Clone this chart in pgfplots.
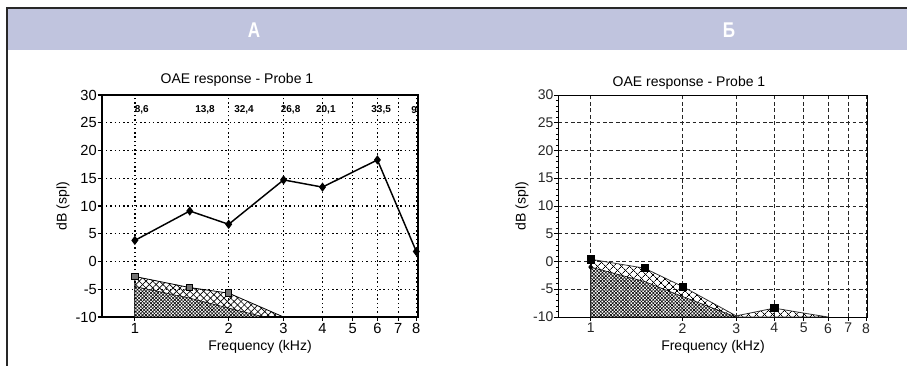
\documentclass[border=0pt]{standalone}
\usepackage{pgfplots}
\pgfplotsset{compat=1.18}
\usepackage{fontspec}
\setmainfont{Liberation Sans}
\usetikzlibrary{patterns.meta}
\definecolor{hdr}{RGB}{192,196,222}
\definecolor{frame}{RGB}{40,40,40}

\begin{document}
\begin{tikzpicture}[x=0.75pt,y=0.75pt]
\path[use as bounding box] (0,0) rectangle (907,366);
\fill[hdr] (7,316) rectangle (907,357.5);
\draw[line width=1.1pt, frame] (6,358) -- (907,358);
\draw[line width=1.1pt, frame] (7,358) -- (7,0);
\node[text=white, font=\bfseries\fontsize{16}{18}\selectfont] at (254,336) {\scalebox{0.8}[1]{А}};
\node[text=white, font=\bfseries\fontsize{16}{18}\selectfont] at (729,336) {\scalebox{0.8}[1]{Б}};

% ---------------- Panel A ----------------
\node[font=\fontsize{10.5}{12}\selectfont] at (237,286) {OAE response - Probe 1};
\node[font=\fontsize{10.5}{12}\selectfont, rotate=90] at (63,160) {dB (spl)};
\node[font=\fontsize{10.5}{12}\selectfont] at (260,19.5) {Frequency (kHz)};

\begin{axis}[
  at={(76.3pt,36.75pt)}, anchor=south west,
  scale only axis, width=237.2pt, height=166.5pt,
  xmode=log, xmin=0.783, xmax=8.1, ymin=-10, ymax=30,
  xtick={1,2,3,4,5,6,7,8}, xticklabels={1,2,3,4,5,6,7,8},
  xminorticks=false,
  ytick={-10,-5,0,5,10,15,20,25,30},
  yticklabels={-10,-5,0,5,10,15,20,25,30},
  grid=major,
  major grid style={black, line width=1.1pt, dash pattern=on 1.1pt off 2.1pt},
  axis line style={black, line width=1.2pt},
  tick align=outside, tick pos=left,
  major tick length=3pt,
  tick style={black, line width=0.9pt},
  ticklabel style={font=\fontsize{11}{12}\selectfont},
  yticklabel style={inner xsep=0.5pt},
  xticklabel style={inner ysep=1.5pt},
  clip=false,
]
% noise floor, upper hatched region
\addplot[draw=black, line width=0.6pt, pattern={Lines[angle=45,distance=3.6pt,line width=0.5pt]}, pattern color=black]
  coordinates {(1,-2.7) (1.5,-4.7) (2,-5.7) (3,-10) (1,-10)} -- cycle;
\addplot[draw=none, pattern={Lines[angle=-45,distance=3.6pt,line width=0.5pt]}, pattern color=black]
  coordinates {(1,-2.7) (1.5,-4.7) (2,-5.7) (3,-10) (1,-10)} -- cycle;
% dense region
\addplot[draw=none, fill=white]
  coordinates {(1,-4.5) (1.5,-6.6) (2,-8.4) (2.6,-10) (1,-10)} -- cycle;
\addplot[draw=black, line width=0.4pt, pattern={Lines[angle=45,distance=1.8pt,line width=0.45pt]}, pattern color=black]
  coordinates {(1,-4.5) (1.5,-6.6) (2,-8.4) (2.6,-10) (1,-10)} -- cycle;
\addplot[draw=none, pattern={Lines[angle=-45,distance=1.8pt,line width=0.45pt]}, pattern color=black]
  coordinates {(1,-4.5) (1.5,-6.6) (2,-8.4) (2.6,-10) (1,-10)} -- cycle;
\addplot[only marks, mark=square*, mark size=2.4pt, mark options={fill=black!55, draw=black, line width=0.7pt}]
  coordinates {(1,-2.7) (1.5,-4.7) (2,-5.7)};
% DPOAE response
\addplot[black, line width=1.1pt, mark=diamond*, mark size=2.6pt, mark options={fill=black}]
  coordinates {(1,3.8) (1.5,9.1) (2,6.7) (3,14.7) (4,13.4) (6,18.3) (8,1.8)};
% SNR labels
\begin{scope}[every node/.style={font=\bfseries\fontsize{7.5}{8}\selectfont}]
\node at (axis cs:1.053,27.3) {8,6};
\node at (axis cs:1.68,27.3) {13,8};
\node at (axis cs:2.24,27.3) {32,4};
\node at (axis cs:3.16,27.3) {26,8};
\node at (axis cs:4.1,27.3) {20,1};
\node at (axis cs:6.17,27.3) {33,5};
\node at (axis cs:7.87,27.3) {9};
\end{scope}
\end{axis}

% ---------------- Panel B ----------------
\node[font=\fontsize{10.5}{12}\selectfont] at (689,283) {OAE response - Probe 1};
\node[font=\fontsize{10.5}{12}\selectfont, rotate=90] at (522,160) {dB (spl)};
\node[font=\fontsize{10.5}{12}\selectfont] at (713,19.5) {Frequency (kHz)};

\begin{axis}[
  at={(418.7pt,36.75pt)}, anchor=south west,
  scale only axis, width=232.05pt, height=166.5pt,
  xmode=log, xmin=0.783, xmax=8.1, ymin=-10, ymax=30,
  xtick={1,2,3,4,5,6,7,8}, xticklabels={1,2,3,4,5,6,7,8},
  xminorticks=false,
  ytick={-10,-5,0,5,10,15,20,25,30},
  yticklabels={-10,-5,0,5,10,15,20,25,30},
  minor y tick num=4,
  grid=major,
  major grid style={black!85, line width=0.6pt, dash pattern=on 2.8pt off 2pt},
  axis line style={black, line width=0.7pt},
  tick align=outside, tick pos=left,
  major tick length=3pt, minor tick length=1.8pt,
  tick style={black, line width=0.5pt},
  ticklabel style={font=\fontsize{10.5}{12}\selectfont, text=black!85},
  yticklabel style={inner xsep=0.5pt},
  xticklabel style={inner ysep=1.5pt},
  clip=false,
]
\addplot[draw=black!80, line width=0.6pt, pattern={Lines[angle=45,distance=4pt,line width=0.5pt]}, pattern color=black]
  coordinates {(1,0.4) (1.5,-1.2) (2,-4.5) (3,-9.8) (4,-8.4) (5,-9.3) (6,-10) (1,-10)} -- cycle;
\addplot[draw=none, pattern={Lines[angle=-45,distance=4pt,line width=0.5pt]}, pattern color=black]
  coordinates {(1,0.4) (1.5,-1.2) (2,-4.5) (3,-9.8) (4,-8.4) (5,-9.3) (6,-10) (1,-10)} -- cycle;
\addplot[draw=none, fill=white]
  coordinates {(1,-1.0) (1.5,-3.6) (2,-6.3) (3,-10) (1,-10)} -- cycle;
\addplot[draw=black, line width=0.4pt, pattern={Lines[angle=45,distance=1.8pt,line width=0.45pt]}, pattern color=black]
  coordinates {(1,-1.0) (1.5,-3.6) (2,-6.3) (3,-10) (1,-10)} -- cycle;
\addplot[draw=none, pattern={Lines[angle=-45,distance=1.8pt,line width=0.45pt]}, pattern color=black]
  coordinates {(1,-1.0) (1.5,-3.6) (2,-6.3) (3,-10) (1,-10)} -- cycle;
\addplot[only marks, mark=diamond*, mark size=2pt, mark options={fill=black}]
  coordinates {(1,-1.0)};
\addplot[only marks, mark=square*, mark size=2.7pt, mark options={fill=black, draw=black}]
  coordinates {(1,0.4) (1.5,-1.2) (2,-4.5) (4,-8.3)};
\end{axis}
\end{tikzpicture}
\end{document}
